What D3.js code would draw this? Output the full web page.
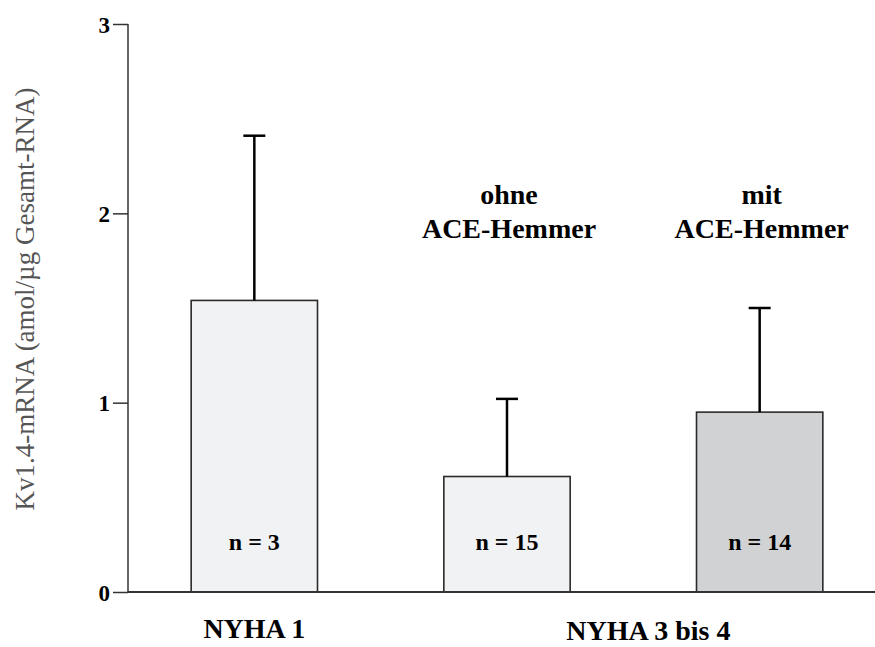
<!DOCTYPE html>
<html>
<head>
<meta charset="utf-8">
<script src="https://cdn.jsdelivr.net/npm/d3@7"></script>
<style>
    body { margin: 0; background: #fff; }
    svg text { font-family: "Liberation Serif", "Times New Roman", Times, serif; }
</style>
</head>
<body>
<div id="chart"></div>
<script>
// Bar groups and their values
const groups = ['NYHA 1', 'ohne ACE-Hemmer', 'mit ACE-Hemmer'];
const means = [1.54, 0.61, 0.95];
const errors = [0.87, 0.41, 0.55];
const nCounts = [3, 15, 14];
const barFills = ['#f1f2f4', '#f1f2f4', '#d1d2d4'];
const yTicks = [0, 1, 2, 3];

const width = 875, height = 647;
const margin = { top: 24, left: 128, bottom: 55 };
const serif = '"Liberation Serif", "Times New Roman", Times, serif';

const svg = d3.select('#chart')
    .append('svg')
    .attr('width', width)
    .attr('height', height)
    .attr('font-family', serif);

const xScale = d3.scaleBand()
    .domain(groups)
    .range([margin.left, 886])
    .paddingInner(0.5)
    .paddingOuter(0.25);

const yScale = d3.scaleLinear()
    .domain([0, 3])
    .range([height - margin.bottom, margin.top]);

const data = groups.map((g, i) => ({ group: g, mean: means[i], err: errors[i], n: nCounts[i], fill: barFills[i] }));

// Bars
svg.selectAll('.bar')
    .data(data)
    .enter().append('rect')
    .attr('class', 'bar')
    .attr('x', d => xScale(d.group))
    .attr('y', d => yScale(d.mean))
    .attr('width', xScale.bandwidth())
    .attr('height', d => yScale(0) - yScale(d.mean))
    .attr('fill', d => d.fill)
    .attr('stroke', '#2b2b2b')
    .attr('stroke-width', 1.6);

// Error bars (upper only)
const cx = d => xScale(d.group) + xScale.bandwidth() / 2;
svg.selectAll('.err')
    .data(data)
    .enter().append('line')
    .attr('class', 'err')
    .attr('x1', cx).attr('x2', cx)
    .attr('y1', d => yScale(d.mean))
    .attr('y2', d => yScale(d.mean + d.err))
    .attr('stroke', '#000')
    .attr('stroke-width', 2.5);

svg.selectAll('.cap')
    .data(data)
    .enter().append('line')
    .attr('class', 'cap')
    .attr('x1', d => cx(d) - 11).attr('x2', d => cx(d) + 11)
    .attr('y1', d => yScale(d.mean + d.err))
    .attr('y2', d => yScale(d.mean + d.err))
    .attr('stroke', '#000')
    .attr('stroke-width', 2.5);

// n labels inside bars
svg.selectAll('.n-label')
    .data(data)
    .enter().append('text')
    .attr('class', 'n-label')
    .attr('x', cx)
    .attr('y', 550)
    .attr('text-anchor', 'middle')
    .attr('font-family', serif)
    .attr('font-size', 24)
    .attr('font-weight', 'bold')
    .text(d => `n = ${d.n}`);

// Y axis
const yAxis = svg.append('g')
    .attr('transform', `translate(${margin.left},0)`)
    .call(d3.axisLeft(yScale).tickValues(yTicks).tickFormat(d3.format('d')).tickSize(15).tickPadding(3));
yAxis.attr('font-family', serif);
yAxis.select('.domain').attr('stroke', '#333').attr('stroke-width', 1.5).attr('d', `M0,${yScale(3)}V${yScale(0)}`);
yAxis.selectAll('.tick line').attr('stroke', '#333').attr('stroke-width', 1.5);
yAxis.selectAll('.tick text')
    .attr('font-family', serif)
    .attr('font-size', 23)
    .attr('font-weight', 'bold')
    .attr('fill', '#000')
    .attr('dy', '0.35em');

// X baseline
svg.append('line')
    .attr('x1', margin.left).attr('x2', width)
    .attr('y1', yScale(0)).attr('y2', yScale(0))
    .attr('stroke', '#333')
    .attr('stroke-width', 1.8);

// Y axis title
svg.append('text')
    .attr('transform', 'translate(34,299) rotate(-90)')
    .attr('text-anchor', 'middle')
    .attr('font-family', serif)
    .attr('font-size', 27)
    .attr('fill', '#555')
    .text('Kv1.4-mRNA (amol/µg Gesamt-RNA)');

// Group labels under the axis
svg.append('text')
    .attr('x', cx(data[0])).attr('y', 638)
    .attr('text-anchor', 'middle')
    .attr('font-family', serif)
    .attr('font-size', 28).attr('font-weight', 'bold')
    .text('NYHA 1');

svg.append('text')
    .attr('x', (cx(data[1]) + cx(data[2])) / 2 + 15).attr('y', 640)
    .attr('text-anchor', 'middle')
    .attr('font-family', serif)
    .attr('font-size', 28).attr('font-weight', 'bold')
    .text('NYHA 3 bis 4');

// Treatment labels above the NYHA 3-4 bars
const annot = [['ohne', 'ACE-Hemmer'], ['mit', 'ACE-Hemmer']];
annot.forEach((lines, i) => {
    const t = svg.append('text')
        .attr('text-anchor', 'middle')
        .attr('font-family', serif)
        .attr('font-size', 28)
        .attr('font-weight', 'bold');
    lines.forEach((s, j) => {
        t.append('tspan')
            .attr('x', cx(data[i + 1]) + 2)
            .attr('y', 204 + j * 34)
            .text(s);
    });
});
</script>
</body>
</html>
